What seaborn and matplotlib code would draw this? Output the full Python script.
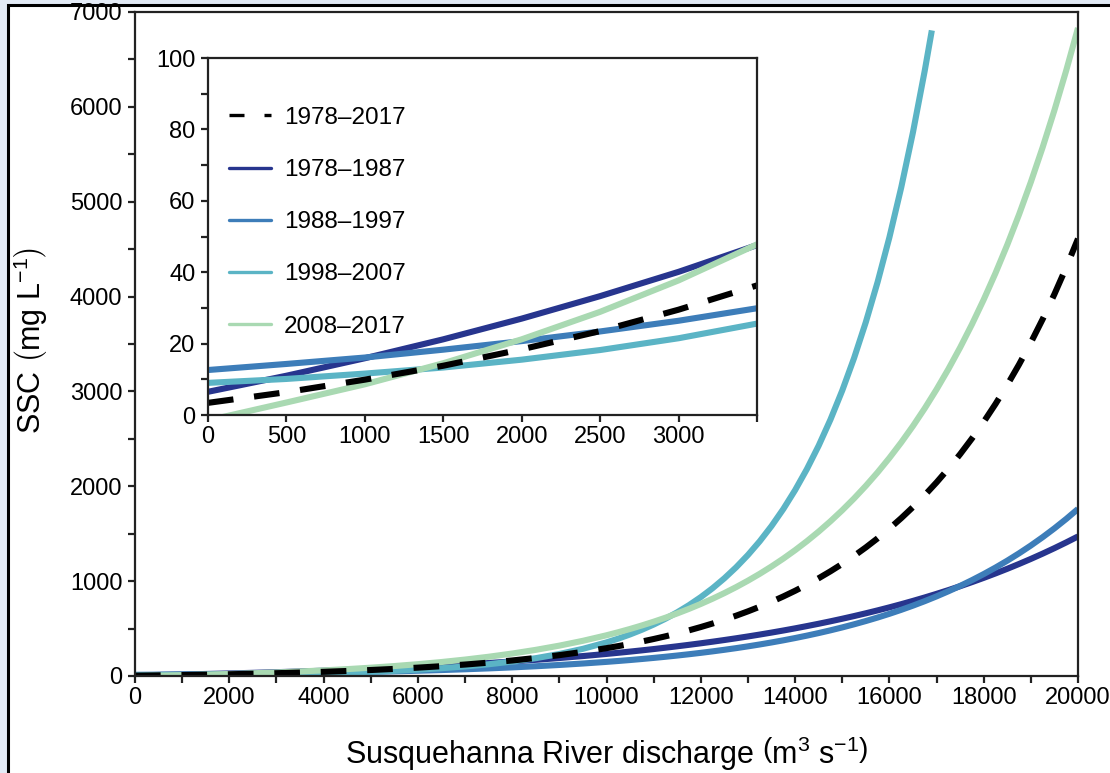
import matplotlib
matplotlib.use("Agg")
import matplotlib.pyplot as plt
from matplotlib.lines import Line2D
from matplotlib.patches import Rectangle
from matplotlib.ticker import MultipleLocator
import pandas as pd
import seaborn as sns

# Discharge (m3 s-1) at which each SSC rating curve is tabulated
discharge = [0, 500, 1000, 1500, 2000, 2500, 3000, 3500, 4000, 4500,
             5000, 5500, 6000, 6500, 7000, 7500, 8000, 8500, 9000, 9500,
             10000, 10250, 10500, 10750, 11000, 11250, 11500, 11750, 12000, 12250,
             12500, 12750, 13000, 13250, 13500, 13750, 14000, 14250, 14500, 14750,
             15000, 15250, 15500, 15750, 16000, 16250, 16500, 16750, 17000, 17250,
             17500, 17750, 18000, 18250, 18500, 18750, 19000, 19250, 19500, 19750,
             20000]

# Suspended sediment concentration (mg L-1) per period
ssc_1978_2017 = [3.4, 6.4, 9.9, 13.8, 18.4, 23.5, 29.5, 36.3, 44.0, 52.9,
                 63.1, 74.8, 88.1, 103.4, 120.8, 140.8, 163.7, 189.9, 219.9, 254.2,
                 293.5, 315.2, 338.4, 363.3, 389.9, 418.3, 448.8, 481.3, 516.2, 553.4,
                 593.3, 635.9, 681.6, 730.4, 782.6, 838.5, 898.3, 962.2, 1030.6, 1103.8,
                 1182.1, 1265.9, 1355.5, 1451.4, 1553.9, 1663.7, 1781.1, 1906.6, 2041.0, 2184.8,
                 2338.5, 2503.1, 2679.1, 2867.4, 3068.8, 3284.3, 3514.9, 3761.5, 4025.4, 4307.7,
                 4609.9]
ssc_1978_1987 = [6.5, 11.0, 15.9, 21.2, 27.0, 33.3, 40.1, 47.6, 55.8, 64.6,
                 74.2, 84.7, 96.2, 108.6, 122.2, 136.9, 153.0, 170.4, 189.5, 210.2,
                 232.7, 244.8, 257.3, 270.4, 284.0, 298.3, 313.2, 328.7, 344.8, 361.7,
                 379.3, 397.7, 416.9, 436.9, 457.8, 479.6, 502.3, 526.1, 550.8, 576.6,
                 603.6, 631.7, 661.0, 691.7, 723.6, 756.9, 791.7, 828.0, 865.9, 905.4,
                 946.6, 989.6, 1034.5, 1081.3, 1130.2, 1181.1, 1234.3, 1289.8, 1347.7, 1408.2,
                 1471.2]
ssc_1988_1997 = [12.6, 14.3, 16.1, 18.3, 20.7, 23.4, 26.4, 29.9, 33.8, 38.3,
                 43.3, 49.0, 55.5, 62.8, 71.0, 80.3, 90.9, 102.8, 116.4, 131.7,
                 149.0, 158.5, 168.5, 179.3, 190.7, 202.8, 215.8, 229.5, 244.1, 259.7,
                 276.2, 293.8, 312.5, 332.4, 353.6, 376.1, 400.1, 425.6, 452.7, 481.5,
                 512.2, 544.8, 579.5, 616.4, 655.7, 697.5, 741.9, 789.1, 839.4, 892.9,
                 949.7, 1010.2, 1074.6, 1143.0, 1215.8, 1293.3, 1375.6, 1463.3, 1556.5, 1655.6,
                 1761.1]
discharge_1998_2007 = [0, 500, 1000, 1500, 2000, 2500, 3000, 3500, 4000, 4500,
                       5000, 5500, 6000, 6500, 7000, 7500, 8000, 8500, 9000, 9500,
                       10000, 10250, 10500, 10750, 11000, 11250, 11500, 11750, 12000, 12250,
                       12500, 12750, 13000, 13250, 13500, 13750, 14000, 14250, 14500, 14750,
                       15000, 15250, 15500, 15750, 16000, 16250, 16500, 16750, 16900]
ssc_1998_2007 = [9.0, 10.1, 11.6, 13.3, 15.5, 18.2, 21.5, 25.6, 30.8, 37.1,
                 45.0, 54.8, 66.9, 82.0, 100.6, 123.7, 152.4, 187.9, 232.0, 286.6,
                 354.3, 394.1, 438.3, 487.6, 542.4, 603.5, 671.5, 747.2, 831.5, 925.4,
                 1030.0, 1146.4, 1276.0, 1420.3, 1581.1, 1760.0, 1959.3, 2181.2, 2428.2, 2703.3,
                 3009.7, 3350.7, 3730.5, 4153.4, 4624.3, 5148.6, 5732.4, 6382.5, 6806.0]
ssc_2008_2017 = [-1.5, 3.5, 8.6, 14.5, 21.2, 28.9, 37.7, 47.8, 59.3, 72.5,
                 87.6, 104.9, 124.6, 147.3, 173.2, 202.9, 236.8, 275.7, 320.1, 371.0,
                 429.3, 461.5, 495.9, 532.8, 572.3, 614.4, 659.6, 707.9, 759.5, 814.8,
                 874.0, 937.2, 1004.9, 1077.3, 1154.8, 1237.6, 1326.3, 1421.1, 1522.6, 1631.2,
                 1747.3, 1871.6, 2004.5, 2146.7, 2298.8, 2461.6, 2635.7, 2822.0, 3021.3, 3234.5,
                 3462.6, 3706.6, 3967.8, 4247.0, 4545.8, 4865.5, 5207.4, 5573.2, 5964.7, 6383.4,
                 6831.6]

periods = ["1978–2017", "1978–1987", "1988–1997", "1998–2007", "2008–2017"]
colors = ["#000000", "#27358e", "#3d7db9", "#5bb4c5", "#a9d9b2"]

series = {
    "1978–2017": (discharge, ssc_1978_2017),
    "1978–1987": (discharge, ssc_1978_1987),
    "1988–1997": (discharge, ssc_1988_1997),
    "1998–2007": (discharge_1998_2007, ssc_1998_2007),
    "2008–2017": (discharge, ssc_2008_2017),
}
frames = []
for name, (q, c) in series.items():
    frames.append(pd.DataFrame({"Q": q, "SSC": c, "period": name}))
df = pd.concat(frames, ignore_index=True)

sns.set_style("ticks")
plt.rcParams["font.family"] = ["Liberation Sans", "DejaVu Sans"]
plt.rcParams["mathtext.fontset"] = "custom"
plt.rcParams["mathtext.rm"] = "Liberation Sans"
plt.rcParams["mathtext.it"] = "Liberation Sans:italic"
plt.rcParams["mathtext.default"] = "regular"
plt.rcParams["text.color"] = "black"
plt.rcParams["axes.labelcolor"] = "black"
plt.rcParams["xtick.labelcolor"] = "black"
plt.rcParams["ytick.labelcolor"] = "black"

fig = plt.figure(figsize=(11.10, 7.73), dpi=100)
fig.patch.set_facecolor("#e3ebf6")
fig.patches.append(Rectangle((8 / 1110, -0.05), 1.2, 1.05 - 5 / 773,
                             transform=fig.transFigure, facecolor="white",
                             edgecolor="black", linewidth=2.2, zorder=-10))

ax = fig.add_axes([135 / 1110, 1 - 676 / 773, (1078 - 135) / 1110, (676 - 12) / 773])
axin = fig.add_axes([208 / 1110, 1 - 415 / 773, (757 - 208) / 1110, (415 - 58) / 773])

LW = 4.4
draw_order = ["1978–1987", "1988–1997", "1998–2007", "2008–2017", "1978–2017"]
for a in (ax, axin):
    for name in draw_order:
        sub = df[df["period"] == name]
        col = colors[periods.index(name)]
        ls = (0, (4.2, 3.4)) if name == "1978–2017" else "-"
        sns.lineplot(data=sub, x="Q", y="SSC", ax=a, color=col, linewidth=LW,
                     linestyle=ls, estimator=None, sort=False, legend=False,
                     solid_capstyle="butt", dash_capstyle="butt")

spine_col = "#222222"
for a in (ax, axin):
    a.set_facecolor("white")
    for s in a.spines.values():
        s.set_visible(True)
        s.set_linewidth(1.6)
        s.set_color(spine_col)
    a.set_xlabel("")
    a.set_ylabel("")

# main panel
ax.set_xlim(0, 20000)
ax.set_ylim(0, 7000)
ax.xaxis.set_major_locator(MultipleLocator(2000))
ax.xaxis.set_minor_locator(MultipleLocator(1000))
ax.yaxis.set_major_locator(MultipleLocator(1000))
ax.yaxis.set_minor_locator(MultipleLocator(500))
ax.tick_params(axis="both", which="both", direction="out", length=5, width=1.6,
               color=spine_col, labelsize=17, labelcolor="black", top=False, right=False)
ax.tick_params(axis="x", which="major", pad=3)
ax.tick_params(axis="y", which="major", pad=4)
ax.set_xlabel(r"Susquehanna River discharge $\left(\mathrm{m^{3}\ s^{-1}}\right)$", fontsize=22)
ax.set_ylabel(r"SSC $\left(\mathrm{mg\ L^{-1}}\right)$", fontsize=22)
ax.xaxis.set_label_coords(0.5, -0.088)
ax.yaxis.set_label_coords(-0.09, 0.505)

# inset panel
axin.set_xlim(0, 3500)
axin.set_ylim(0, 100)
axin.set_xticks(range(0, 3501, 500))
axin.set_xticklabels([str(v) if v < 3500 else "" for v in range(0, 3501, 500)])
axin.yaxis.set_major_locator(MultipleLocator(20))
axin.yaxis.set_minor_locator(MultipleLocator(10))
axin.tick_params(axis="both", which="both", direction="out", length=5, width=1.6,
                 color=spine_col, labelsize=17, labelcolor="black", top=False, right=False)
axin.tick_params(axis="x", which="major", pad=3)
axin.tick_params(axis="y", which="major", pad=4)

handles = []
for name, col in zip(periods, colors):
    if name == "1978–2017":
        h = Line2D([], [], color=col, linewidth=2.4, linestyle=(0, (4.5, 6.0)))
    else:
        h = Line2D([], [], color=col, linewidth=2.4)
    handles.append(h)
axin.legend(handles, periods, loc="upper left", bbox_to_anchor=(0.02, 0.89),
            frameon=False, fontsize=17.5, handlelength=1.73, handletextpad=0.53,
            labelspacing=1.24, borderaxespad=0.0)

fig.savefig("out.png", dpi=100, facecolor=fig.get_facecolor())
